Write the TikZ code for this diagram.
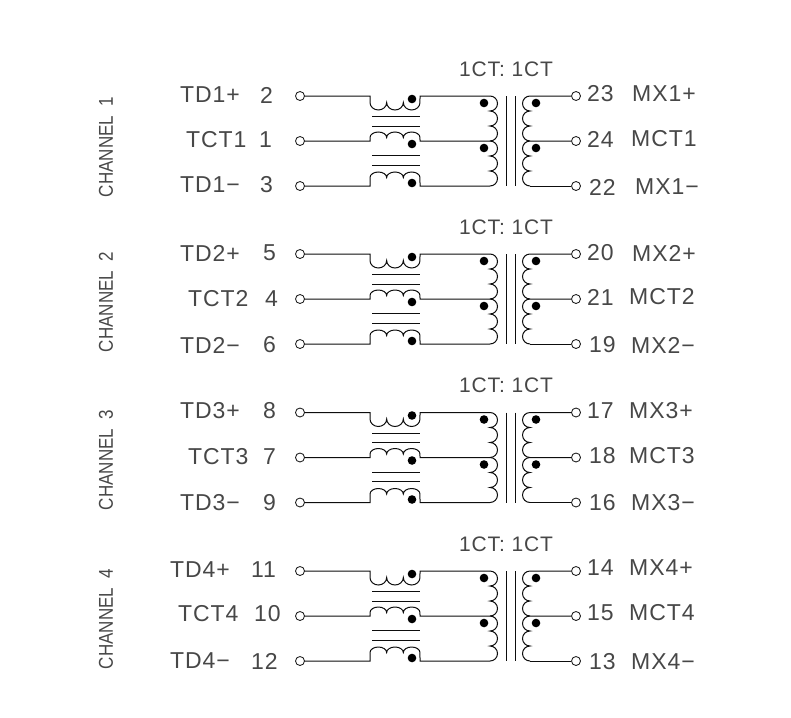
\documentclass[tikz,border=0pt]{standalone}
\usepackage{fontspec}
\newfontfamily\cadfont[LetterSpace=4]{Liberation Sans}
\newfontfamily\sidefont{Liberation Sans}
\tikzset{
  wire/.style={line width=1pt,black!95},
  term/.style={circle,draw,line width=0.85pt,black!90,inner sep=0pt,minimum size=9pt},
  dotmark/.style={circle,fill=black,inner sep=0pt,minimum size=8.6pt},
  lbl/.style={anchor=west,inner sep=0pt,text=black!72,font=\cadfont\fontsize{23}{23}\selectfont},
  ratio/.style={anchor=west,inner sep=0pt,text=black!72,font=\cadfont\fontsize{21}{21}\selectfont},
  side/.style={rotate=90,inner sep=0pt,text=black!72,font=\sidefont\fontsize{20}{20}\selectfont}
}
\begin{document}
\begin{tikzpicture}[x=1pt,y=1pt,yscale=-1]
\useasboundingbox (0,0) rectangle (791,717);
\foreach \ch/\yy in {1/96,2/254,3/412.5,4/571}{
\begin{scope}[shift={(0,\yy)}]
\node[term] (ta\ch) at (300,0) {};
\node[term] (tb\ch) at (300,45) {};
\node[term] (tc\ch) at (300,90) {};
\node[term] (ra\ch) at (576,0) {};
\node[term] (rb\ch) at (576,45) {};
\node[term] (rc\ch) at (576,90) {};
\coordinate (ca\ch) at (370,0);
\coordinate (cb\ch) at (370,45);
\coordinate (cc\ch) at (370,90);
\coordinate (da\ch) at (420,0);
\coordinate (db\ch) at (420,45);
\coordinate (dc\ch) at (420,90);
\coordinate (sa\ch) at (490,0);
\coordinate (sb\ch) at (490,45);
\coordinate (sc\ch) at (490,90);
\coordinate (ua\ch) at (530,0);
\coordinate (ub\ch) at (530,45);
\coordinate (uc\ch) at (530,90);
% line side coils
\draw[wire] (ta\ch) -- (ca\ch) -- ++(0,6.5)
  arc[start angle=180,end angle=0,x radius=8.33,y radius=7.5]
  arc[start angle=180,end angle=0,x radius=8.33,y radius=7.5]
  arc[start angle=180,end angle=0,x radius=8.33,y radius=7.5] -- (da\ch) -- (sa\ch);
\draw[wire] (tb\ch) -- (cb\ch) -- ++(0,-3.5)
  arc[start angle=180,end angle=360,x radius=8.33,y radius=5.5]
  arc[start angle=180,end angle=360,x radius=8.33,y radius=5.5]
  arc[start angle=180,end angle=360,x radius=8.33,y radius=5.5] -- (db\ch) -- (sb\ch);
\draw[wire] (tc\ch) -- (cc\ch) -- ++(0,-8.5)
  arc[start angle=180,end angle=360,x radius=8.33,y radius=5.5]
  arc[start angle=180,end angle=360,x radius=8.33,y radius=5.5]
  arc[start angle=180,end angle=360,x radius=8.33,y radius=5.5] -- (dc\ch) -- (sc\ch);
% transformer windings
\draw[wire] (sa\ch) arc (-90:90:7.5) arc (-90:90:7.5) arc (-90:90:7.5);
\draw[wire] (sb\ch) arc (-90:90:7.5) arc (-90:90:7.5) arc (-90:90:7.5);
\draw[wire] (ra\ch) -- (ua\ch) arc (270:90:7.5) arc (270:90:7.5) arc (270:90:7.5);
\draw[wire] (rb\ch) -- (ub\ch) arc (270:90:7.5) arc (270:90:7.5) arc (270:90:7.5);
\draw[wire] (uc\ch) -- (rc\ch);
% cores
\draw[wire] (372,20.5) -- (420,20.5);
\draw[wire] (372,30) -- (420,30);
\draw[wire] (372,59.5) -- (420,59.5);
\draw[wire] (372,69) -- (420,69);
\draw[wire] (506,0) -- (506,90);
\draw[wire] (515,0) -- (515,90);
% dots
\node[dotmark] (pa\ch) at (412,3) {};
\node[dotmark] (pb\ch) at (412,48) {};
\node[dotmark] (pc\ch) at (412,87) {};
\node[dotmark] (qa\ch) at (484,7) {};
\node[dotmark] (qb\ch) at (484,52) {};
\node[dotmark] (va\ch) at (536,7) {};
\node[dotmark] (vb\ch) at (536,52) {};
\node[ratio] (rt\ch) at (459,-27) {1CT: 1CT};
\end{scope}
}
\foreach \nm/\xx/\yy/\txt in {
  la1/180/95/TD1+,  lb1/186/140/TCT1, lc1/180/185/TD1−,
  na1/260/95/2,     nb1/259/140/1,    nc1/260/185/3,
  ma1/587/94/23,    mb1/587/139/24,   mc1/589/187/22,
  xa1/632/94/MX1+,  xb1/631/139/MCT1, xc1/635/187/MX1−,
  la2/180/253/TD2+, lb2/188/299/TCT2, lc2/180/345/TD2−,
  na2/263/253/5,    nb2/265/299/4,    nc2/263/345/6,
  ma2/587/253/20,   mb2/587/297/21,   mc2/589/345/19,
  xa2/632/253/MX2+, xb2/629/297/MCT2, xc2/631/345/MX2−,
  la3/180/411/TD3+, lb3/188/457/TCT3, lc3/180/503/TD3−,
  na3/263/411/8,    nb3/263/457/7,    nc3/263/503/9,
  ma3/587/411/17,   mb3/589/456/18,   mc3/589/503/16,
  xa3/629/411/MX3+, xb3/629/456/MCT3, xc3/631/503/MX3−,
  la4/170/570/TD4+, lb4/178/614/TCT4, lc4/170/661/TD4−,
  na4/251/570/11,   nb4/254/614/10,   nc4/251/661/12,
  ma4/587/568/14,   mb4/587/613/15,   mc4/589/662/13,
  xa4/629/568/MX4+, xb4/629/613/MCT4, xc4/631/662/MX4−}{
\node[lbl] (\nm) at (\xx,\yy) {\txt};
}
\foreach \ch/\yy in {1/147,2/302,3/460,4/619}{
\node[side] (ch\ch) at (106,\yy) {\scalebox{0.85}[1]{CHANNEL~~\ch}};
}
\end{tikzpicture}
\end{document}
